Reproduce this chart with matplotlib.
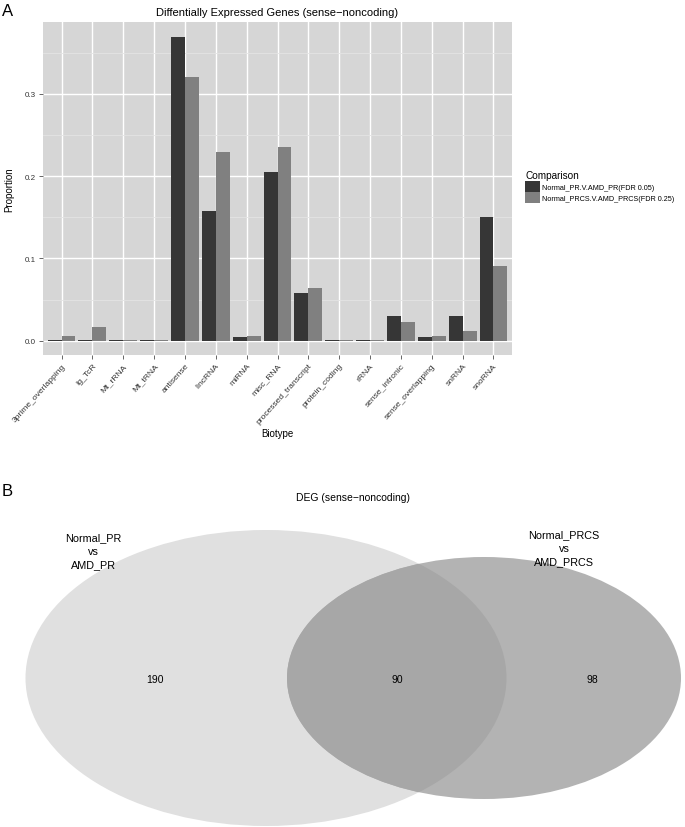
import numpy as np
import matplotlib.pyplot as plt
from matplotlib.patches import Ellipse

plt.rcParams['font.family'] = ['Liberation Sans', 'DejaVu Sans']

# --- data -----------------------------------------------------------------
biotypes = ["3prime_overlapping", "Ig_TcR", "Mt_rRNA", "Mt_tRNA", "antisense",
            "lincRNA", "miRNA", "misc_RNA", "processed_transcript", "protein_coding",
            "rRNA", "sense_intronic", "sense_overlapping", "snRNA", "snoRNA"]
prop_pr = [0.001, 0.001, 0.001, 0.001, 0.369, 0.158, 0.0045, 0.2045, 0.058, 0.001,
           0.001, 0.0296, 0.0045, 0.0296, 0.1507]
prop_prcs = [0.006, 0.0166, 0.001, 0.001, 0.320, 0.229, 0.0057, 0.235, 0.0644, 0.001,
             0.001, 0.0224, 0.006, 0.0118, 0.0911]
series_labels = ["Normal_PR.V.AMD_PR(FDR 0.05)", "Normal_PRCS.V.AMD_PRCS(FDR 0.25)"]
y_ticks = [0.0, 0.1, 0.2, 0.3]

venn_counts = [190, 90, 98]   # left only, overlap, right only
venn_sets = ["Normal_PR\nvs\nAMD_PR", "Normal_PRCS\nvs\nAMD_PRCS"]

W, H = 685, 828
fig = plt.figure(figsize=(W / 100, H / 100), dpi=100)

# --- panel A: bar chart ---------------------------------------------------
ax = fig.add_axes([43 / W, 1 - 356 / H, (512 - 43) / W, (356 - 23) / H])
ax.set_facecolor("#d6d6d6")
x = np.arange(1, len(biotypes) + 1)
w = 0.45
ax.bar(x - w / 2, prop_pr, width=w, color="#363636", label=series_labels[0], zorder=3)
ax.bar(x + w / 2, prop_prcs, width=w, color="#808080", label=series_labels[1], zorder=3)
ax.set_xlim(0.4, len(biotypes) + 0.6)
ax.set_ylim(-0.0174, 0.3872)
ax.set_yticks(y_ticks)
ax.set_yticklabels([f"{v:.1f}" for v in y_ticks])
ax.set_yticks([0.05, 0.15, 0.25, 0.35], minor=True)
ax.set_xticks(x)
ax.set_xticklabels(biotypes, rotation=48, ha="right", va="top", rotation_mode="anchor")
ax.grid(True, which="major", color="white", linewidth=1.0, zorder=0)
ax.grid(True, which="minor", axis="y", color="#e4e4e4", linewidth=0.6, zorder=0)
ax.tick_params(axis="both", which="major", labelsize=5.8, colors="#4d4d4d",
               length=3, width=0.6, labelcolor="#333333", pad=2)
ax.tick_params(axis="x", which="major", labelsize=6.1)
ax.tick_params(axis="y", which="minor", length=0)
for s in ax.spines.values():
    s.set_visible(False)
ax.set_title("Diffentially Expressed Genes (sense\u2212noncoding)", fontsize=8, pad=5)
ax.set_xlabel("Biotype", fontsize=7, labelpad=2)
ax.set_ylabel("Proportion", fontsize=7, labelpad=8)

leg = ax.legend(loc="upper left", bbox_to_anchor=(520 / W, 1 - 166 / H),
                bbox_transform=fig.transFigure, title="Comparison", frameon=False,
                fontsize=5.2, title_fontsize=7.2, handlelength=2.1, handleheight=1.95,
                handletextpad=0.3, labelspacing=0.1, borderpad=0.2)
leg._legend_box.align = "left"

# --- overlay for panel letters and venn diagram ---------------------------
ov = fig.add_axes([0, 0, 1, 1])
ov.set_xlim(0, W)
ov.set_ylim(H, 0)
ov.axis("off")
ov.text(2, 11, "A", fontsize=12, ha="left", va="center")
ov.text(2, 492, "B", fontsize=12, ha="left", va="center")
ov.text(353, 498, "DEG (sense\u2212noncoding)", fontsize=7.5, ha="center", va="center")

left = Ellipse((266, 679), 481, 296, facecolor="#e0e0e0", edgecolor="none")
right = Ellipse((484, 679), 394, 242, facecolor="#b3b3b3", edgecolor="none")
both = Ellipse((484, 679), 394, 242, facecolor="#a7a7a7", edgecolor="none")
ov.add_patch(left)
ov.add_patch(right)
ov.add_patch(both)
both.set_clip_path(left)

ov.text(155, 680, str(venn_counts[0]), fontsize=7.5, ha="center", va="center")
ov.text(397, 680, str(venn_counts[1]), fontsize=7.5, ha="center", va="center")
ov.text(592, 680, str(venn_counts[2]), fontsize=7.5, ha="center", va="center")
ov.text(93, 552, venn_sets[0], fontsize=7.8, ha="center", va="center", linespacing=1.45)
ov.text(564, 549, venn_sets[1], fontsize=7.8, ha="center", va="center", linespacing=1.45)

fig.savefig("out.png", dpi=100)
